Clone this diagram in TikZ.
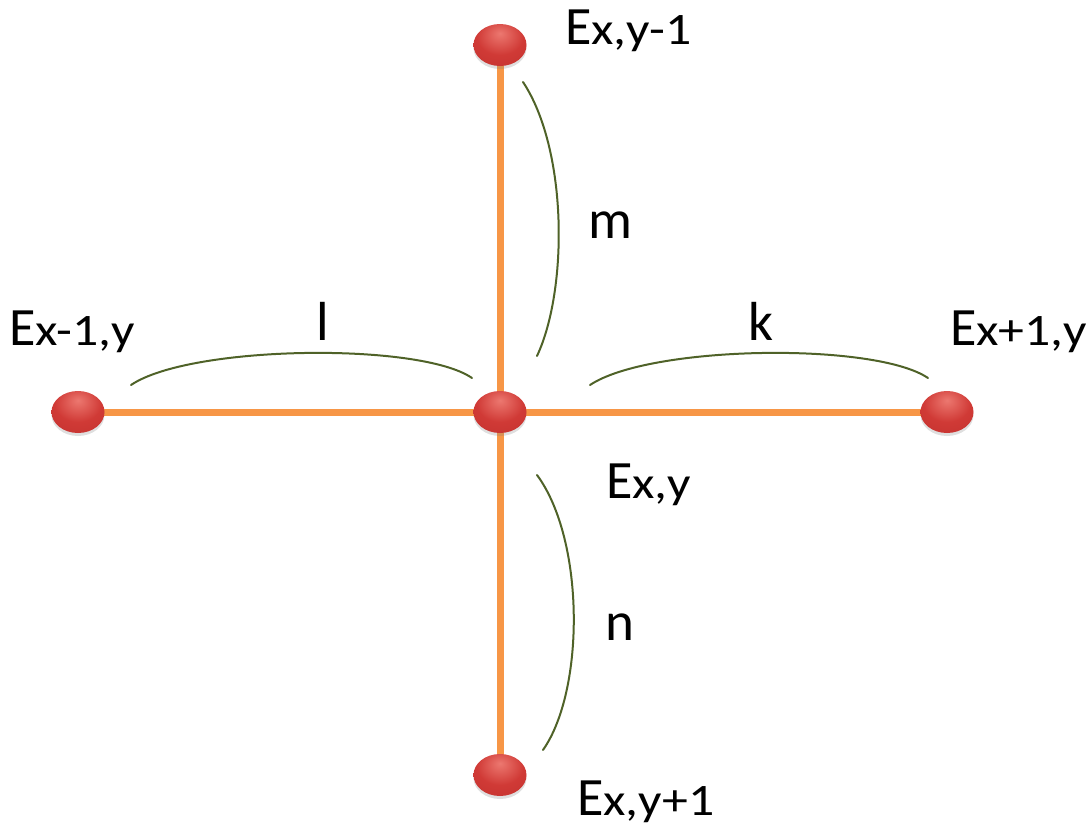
\documentclass[tikz,border=0pt]{standalone}
\usepackage{fontspec}
\setmainfont{Carlito}
\usetikzlibrary{backgrounds,shadows,shapes.geometric}
\definecolor{edgeorange}{HTML}{F79646}
\definecolor{braceolive}{HTML}{4F6228}
\definecolor{ballhi}{RGB}{236,120,112}
\definecolor{ballmid}{RGB}{208,58,54}
\definecolor{ballmidb}{RGB}{190,46,44}
\definecolor{balldk}{RGB}{120,24,24}
\pgfdeclareradialshading{redball}{\pgfpoint{0bp}{14bp}}{%
  color(0bp)=(ballhi); color(22bp)=(ballmid); color(52bp)=(ballmidb);
  color(66bp)=(balldk); color(80bp)=(balldk)}
\tikzset{
  pt/.style={ellipse, minimum width=53pt, minimum height=42pt, inner sep=0pt,
    shading=redball,
    drop shadow={shadow xshift=0pt, shadow yshift=-3pt, opacity=0.25}},
  elabel/.style={font=\fontsize{54}{58}\selectfont, inner sep=0pt, anchor=base west},
  dlabel/.style={font=\fontsize{55}{58}\selectfont, inner sep=0pt, anchor=base west},
  edge/.style={draw=edgeorange, line width=7pt},
  bracecurve/.style={draw=braceolive, line width=2pt, line cap=round}
}
\newcommand{\idx}[1]{\scalebox{1.15}[1]{\fontsize{45}{50}\selectfont #1}}
\begin{document}
\begin{tikzpicture}[x=1pt,y=-1pt]
\useasboundingbox (0,0) rectangle (1088,827);
% nodes
\node[pt] (top) at (500,45) {};
\node[pt] (ctr) at (500,412) {};
\node[pt] (lft) at (78,412) {};
\node[pt] (rgt) at (947,412) {};
\node[pt] (bot) at (500,775) {};
% edges
\begin{scope}[on background layer]
\draw[edge] (top.center) -- (ctr.center);
\draw[edge] (ctr.center) -- (bot.center);
\draw[edge] (lft.center) -- (ctr.center);
\draw[edge] (ctr.center) -- (rgt.center);
\end{scope}
% braces
\coordinate (m1) at (523,82);  \coordinate (m2) at (537,356);
\coordinate (l1) at (131,385); \coordinate (l2) at (472,378);
\coordinate (k1) at (590,385); \coordinate (k2) at (928,378);
\coordinate (n1) at (537,475); \coordinate (n2) at (543,750);
\draw[bracecurve] (m1) .. controls (568,150) and (568,290) .. (m2);
\draw[bracecurve] (l1) .. controls (190,345) and (420,342) .. (l2);
\draw[bracecurve] (k1) .. controls (650,345) and (875,342) .. (k2);
\draw[bracecurve] (n1) .. controls (585,540) and (585,690) .. (n2);
% labels
\node[elabel] (lt) at (565,45) {E\idx{x,y-1}};
\node[elabel] (ll) at (9,345) {E\idx{x-1,y}};
\node[elabel] (lr) at (950,345) {E\idx{x+1,y}};
\node[elabel] (lc) at (606,498) {E\idx{x,y}};
\node[elabel] (lb) at (577,815) {E\idx{x,y+1}};
\node[dlabel] (dm) at (588,238) {m};
\node[dlabel] (dl) at (316,340) {l};
\node[dlabel] (dk) at (748,340) {k};
\node[dlabel] (dn) at (605,640) {n};
\end{tikzpicture}
\end{document}
